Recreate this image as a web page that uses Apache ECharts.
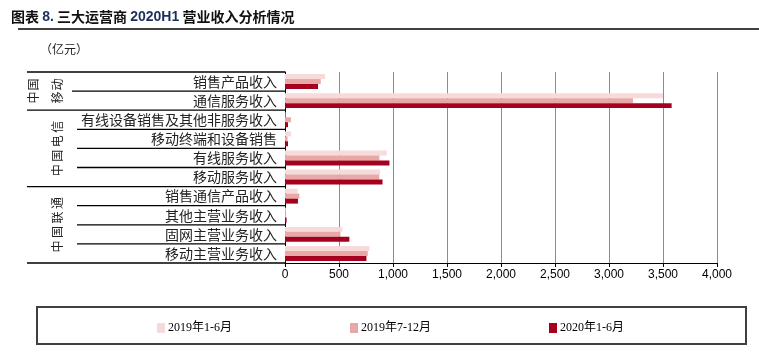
<!DOCTYPE html>
<html><head><meta charset="utf-8">
<script src="https://cdn.jsdelivr.net/npm/echarts@6/dist/echarts.min.js"></script>
<style>html,body{margin:0;padding:0;background:#fff}#c{width:759px;height:355px}</style>
</head><body><div id="c"></div>
<script>
const categories = ['销售产品收入','通信服务收入','有线设备销售及其他非服务收入','移动终端和设备销售','有线服务收入','移动服务收入','销售通信产品收入','其他主营业务收入','固网主营业务收入','移动主营业务收入'];
const groups = [
  {name: '中国移动', from: 0, to: 1},
  {name: '中国电信', from: 2, to: 5},
  {name: '中国联通', from: 6, to: 9}
];
const seriesNames = ['2019年1-6月','2019年7-12月','2020年1-6月'];
const h1_2019 = [371, 3500, 5, 55, 942, 880, 117, 8, 531, 781];
const h2_2019 = [331, 3222, 55, 24, 874, 872, 133, 10, 513, 766];
const h1_2020 = [306, 3580, 28, 28, 967, 903, 120, 15, 596, 754];
const xTicks = {min: 0, max: 4000, interval: 500};
const colors = ['#f7dada', '#e9a8a8', '#a6001f'];

const chart = echarts.init(document.getElementById('c'));
const fontCJK = '"Noto Sans CJK SC", sans-serif';
const option = {
  animation: false,
  title: {
    left: 6, top: 5,
    text: '{a|图表 }{b|8.}{a| 三大运营商 }{b|2020H1}{a| 营业收入分析情况}',
    textStyle: {
      rich: {
        a: {fontFamily: fontCJK, fontWeight: 'bold', fontSize: 14, color: '#111'},
        b: {fontFamily: 'Liberation Sans', fontWeight: 'bold', fontSize: 14, color: '#1b2f5e'}
      }
    }
  },
  grid: {left: 285, right: 42, top: 72, bottom: 92, containLabel: false},
  legend: {
    left: 152, top: 317, itemWidth: 8, itemHeight: 10, itemGap: 118,
    icon: 'rect',
    textStyle: {fontFamily: '"Liberation Serif", "Noto Sans CJK SC"', fontSize: 12, color: '#000', padding: [0,0,0,-2]},
    data: seriesNames
  },
  xAxis: {
    type: 'value', min: xTicks.min, max: xTicks.max, interval: xTicks.interval,
    axisLine: {show: true, lineStyle: {color: '#000', width: 1}},
    axisTick: {show: true, length: 4, lineStyle: {color: '#000'}},
    axisLabel: {fontFamily: 'Liberation Sans', fontSize: 12, color: '#000', margin: 6,
      formatter: v => v.toLocaleString('en-US')},
    splitLine: {show: true, lineStyle: {color: '#8c8c8c', width: 1}}
  },
  yAxis: {
    type: 'category', data: categories, inverse: true,
    axisLine: {show: true, lineStyle: {color: '#000', width: 1}},
    axisTick: {show: false},
    axisLabel: {fontFamily: fontCJK, fontSize: 14, color: '#222', margin: 8}
  },
  series: [h1_2019, h2_2019, h1_2020].map((d, i) => ({
    name: seriesNames[i], type: 'bar', data: d,
    barGap: '0%', barCategoryGap: '22%',
    itemStyle: {color: colors[i]}
  }))
};
chart.setOption(option);

// separators and group labels computed from the category scale
const centers = categories.map(c => chart.convertToPixel({yAxisIndex: 0}, c));
const band = centers[1] - centers[0];
const bounds = [centers[0] - band / 2].concat(centers.map(c => c + band / 2));
const axisX = chart.convertToPixel({xAxisIndex: 0}, 0);
const graphics = [];
graphics.push({type: 'line', shape: {x1: 18, y1: 29, x2: 759, y2: 29}, style: {stroke: '#000', lineWidth: 1.5}});
graphics.push({type: 'text', left: 40, top: 43, style: {text: '（亿元）', font: '12px "Noto Sans CJK SC"', fill: '#222'}});
groups.forEach((g, gi) => {
  graphics.push({type: 'line', shape: {x1: 27, y1: bounds[g.from], x2: axisX, y2: bounds[g.from]}, style: {stroke: '#000', lineWidth: 1.3}});
  for (let k = g.from + 1; k <= g.to; k++) {
    const sx = gi === 0 ? 72 : 77;
    graphics.push({type: 'line', shape: {x1: sx, y1: bounds[k], x2: axisX, y2: bounds[k]}, style: {stroke: '#000', lineWidth: 1.3}});
  }
  const cy = (bounds[g.from] + bounds[g.to + 1]) / 2;
  const chars = g.name.split('');
  if (gi === 0) {
    const cols = [[chars[0], chars[1], 33], [chars[2], chars[3], 57]];
    cols.forEach(col => {
      [col[0], col[1]].forEach((ch, i) => {
        graphics.push({type: 'text', x: col[2], y: cy + (0.5 - i) * 13, rotation: Math.PI / 2,
          style: {text: ch, font: '12px "Noto Sans CJK SC"', fill: '#222', textAlign: 'center', textVerticalAlign: 'middle'}});
      });
    });
  } else {
    chars.forEach((ch, i) => {
      graphics.push({type: 'text', x: 57, y: cy + (1.5 - i) * 14.5, rotation: Math.PI / 2,
        style: {text: ch, font: '12px "Noto Sans CJK SC"', fill: '#222', textAlign: 'center', textVerticalAlign: 'middle'}});
    });
  }
});
graphics.push({type: 'line', shape: {x1: 27, y1: bounds[bounds.length - 1], x2: axisX, y2: bounds[bounds.length - 1]}, style: {stroke: '#000', lineWidth: 1.3}});
graphics.push({type: 'rect', shape: {x: 37, y: 307, width: 709, height: 37}, style: {fill: 'none', stroke: '#404040', lineWidth: 2}, z: -1});
chart.setOption({graphic: graphics});
</script></body></html>
